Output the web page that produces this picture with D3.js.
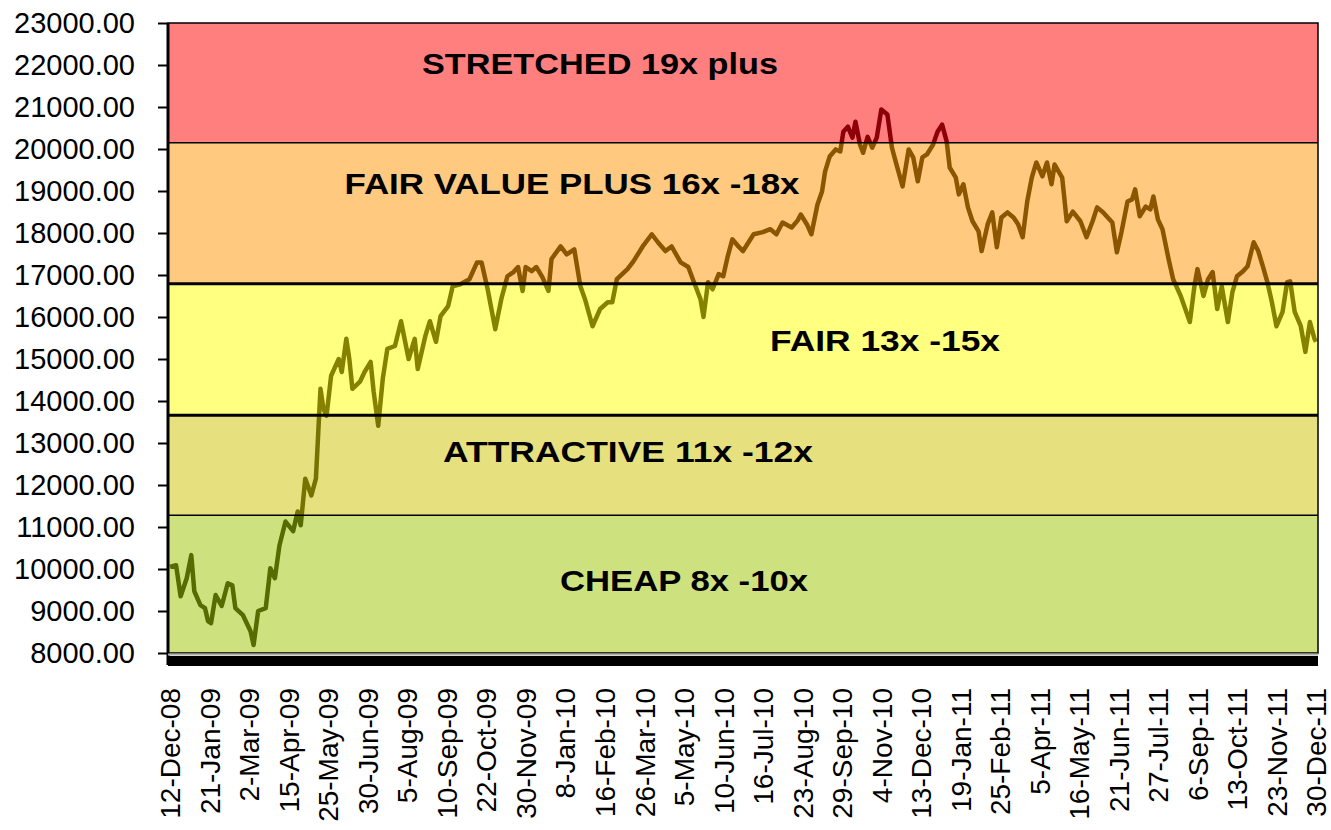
<!DOCTYPE html>
<html>
<head>
<meta charset="utf-8">
<script src="https://cdn.jsdelivr.net/npm/d3@7"></script>
<style>
  body { margin: 0; background: #fff; }
  text { font-family: "Liberation Sans", Arial, sans-serif; }
</style>
</head>
<body>
<div class="chart"></div>
<script>
var svgWidth = 1331;
var svgHeight = 830;

// y axis ticks
var yTicks = [8000, 9000, 10000, 11000, 12000, 13000, 14000, 15000, 16000,
  17000, 18000, 19000, 20000, 21000, 22000, 23000];

// x axis labels, one every 26 sessions
var dateLabels = ["12-Dec-08", "21-Jan-09", "2-Mar-09", "15-Apr-09", "25-May-09",
  "30-Jun-09", "5-Aug-09", "10-Sep-09", "22-Oct-09", "30-Nov-09", "8-Jan-10",
  "16-Feb-10", "26-Mar-10", "5-May-10", "10-Jun-10", "16-Jul-10", "23-Aug-10",
  "29-Sep-10", "4-Nov-10", "13-Dec-10", "19-Jan-11", "25-Feb-11", "5-Apr-11",
  "16-May-11", "21-Jun-11", "27-Jul-11", "6-Sep-11", "13-Oct-11", "23-Nov-11",
  "30-Dec-11"];
var sessionsPerLabel = 26;

// valuation bands (lower / upper bound)
var bandNames = ["CHEAP 8x -10x", "ATTRACTIVE 11x -12x", "FAIR 13x -15x",
  "FAIR VALUE PLUS 16x -18x", "STRETCHED  19x plus"];
var bandLow = [8000, 11280, 13660, 16790, 20150];
var bandHigh = [11280, 13660, 16790, 20150, 23000];
var bandFill = ["#cde27f", "#e6e07f", "#ffff80", "#ffc980", "#ff7f7f"];
var bandLine = ["#566b00", "#767300", "#868200", "#8c5500", "#8e0008"];
var bandLabelX = [684, 628, 885, 572, 600];
var bandLabelY = [580, 451, 340, 183, 63];
var bandLabelW = [248, 370, 230, 455, 356];

// index level (session number, close)
var sessions = [0, 4, 7, 11, 14, 16, 20, 23, 25, 27, 30, 34, 38, 41, 43, 48, 53, 55,
  58, 63, 66, 69, 72, 76, 81, 84, 86, 89, 93, 96, 99, 101, 103, 106, 111, 113, 116,
  118, 120, 125, 128, 132, 134, 137, 140, 143, 148, 152, 157, 161, 163, 168, 171,
  175, 178, 183, 186, 191, 197, 202, 205, 209, 214, 218, 222, 226, 229, 232, 234,
  238, 241, 245, 249, 251, 257, 261, 266, 270, 273, 278, 283, 288, 291, 294, 301,
  305, 311, 317, 321, 326, 330, 336, 341, 344, 349, 351, 354, 357, 361, 364, 367,
  370, 374, 377, 384, 390, 395, 399, 403, 409, 413, 415, 419, 422, 426, 429, 431,
  434, 438, 441, 443, 446, 449, 451, 454, 456, 459, 462, 465, 468, 472, 475, 478,
  482, 486, 489, 492, 495, 498, 502, 505, 508, 511, 513, 517, 519, 522, 525, 528,
  532, 534, 538, 541, 544, 547, 551, 555, 558, 561, 564, 567, 570, 574, 577, 580,
  582, 587, 590, 594, 599, 603, 607, 610, 614, 620, 623, 626, 630, 633, 635, 638,
  642, 645, 647, 650, 653, 657, 660, 665, 668, 671, 674, 676, 680, 683, 686, 689,
  692, 696, 699, 702, 706, 709, 713, 716, 719, 722, 725, 728, 732, 735, 737, 740,
  744, 747, 750, 753, 754];
var closes = [10050, 10090, 9350, 9780, 10330, 9470, 9140, 9070, 8760, 8710, 9380,
  9120, 9660, 9610, 9070, 8900, 8520, 8190, 9000, 9070, 10020, 9780, 10560, 11130,
  10900, 11370, 11040, 12150, 11750, 12150, 14290, 13810, 13650, 14600, 15000, 14690,
  15480, 15000, 14290, 14460, 14690, 14930, 14220, 13410, 14530, 15240, 15310, 15900,
  15000, 15480, 14760, 15550, 15900, 15410, 16020, 16260, 16730, 16780, 16900, 17300,
  17300, 16660, 15710, 16430, 16970, 17070, 17190, 16620, 17190, 17090, 17190, 16950,
  16620, 17380, 17680, 17490, 17610, 16730, 16430, 15780, 16190, 16350, 16350, 16900,
  17140, 17330, 17680, 17970, 17780, 17570, 17680, 17300, 17190, 16900, 16430, 16000,
  16830, 16660, 17020, 16970, 17450, 17850, 17680, 17570, 17970, 18020, 18090, 17970,
  18250, 18130, 18300, 18440, 18210, 17970, 18680, 18990, 19460, 19820, 19990, 19940,
  20410, 20530, 20270, 20650, 20100, 19910, 20290, 20030, 20270, 20940, 20820, 20030,
  19630, 19110, 19990, 19800, 19230, 19800, 19870, 20100, 20410, 20580, 20180, 19560,
  19320, 18920, 19160, 18610, 18280, 18040, 17570, 18210, 18490, 17660, 18370, 18490,
  18370, 18210, 17900, 18750, 19320, 19680, 19350, 19680, 19160, 19630, 19320, 18280,
  18510, 18280, 17900, 18280, 18610, 18490, 18250, 17540, 18020, 18750, 18800, 19040,
  18400, 18630, 18560, 18870, 18320, 18090, 17380, 16900, 16500, 16190, 15880, 16730,
  17140, 16500, 16900, 17070, 16190, 16730, 15880, 16590, 16970, 17090, 17210, 17780,
  17570, 17210, 16830, 16350, 15780, 16120, 16830, 16850, 16120, 15780, 15170, 15880,
  15480, 15410];

var plot = {left: 168, right: 1318, top: 23, bottom: 653};

var svg = d3.select(".chart")
  .append("svg")
  .attr("width", svgWidth)
  .attr("height", svgHeight)
  .style("display", "block");

svg.append("rect").attr("width", svgWidth).attr("height", svgHeight).attr("fill", "#fff");

var lastSession = sessionsPerLabel * (dateLabels.length - 1);
var xScale = d3.scaleLinear().domain([0, lastSession]).range([170, 1316]);
var yScale = d3.scaleLinear().domain([8000, 23000]).range([plot.bottom, plot.top]);

// band backgrounds + a clip for each band
var defs = svg.append("defs");
bandLow.forEach(function(lo, i) {
  svg.append("rect")
    .attr("x", plot.left)
    .attr("y", yScale(bandHigh[i]))
    .attr("width", plot.right - plot.left)
    .attr("height", yScale(lo) - yScale(bandHigh[i]))
    .attr("fill", bandFill[i]);
  defs.append("clipPath").attr("id", "band" + i)
    .append("rect")
    .attr("x", plot.left)
    .attr("y", yScale(bandHigh[i]))
    .attr("width", plot.right - plot.left)
    .attr("height", yScale(lo) - yScale(bandHigh[i]));
});

// the index line, coloured per band
var line = d3.line()
  .x(function(d, i) { return xScale(sessions[i]); })
  .y(function(d) { return yScale(d); });

bandLow.forEach(function(lo, i) {
  svg.append("path")
    .datum(closes)
    .attr("clip-path", "url(#band" + i + ")")
    .attr("d", line)
    .attr("fill", "none")
    .attr("stroke", bandLine[i])
    .attr("stroke-width", 4.5)
    .attr("stroke-linejoin", "round");
});

// band borders
var borderWidth = [1.5, 3, 3, 1.5];
[11280, 13660, 16790, 20150].forEach(function(v, i) {
  svg.append("line")
    .attr("x1", plot.left).attr("x2", plot.right)
    .attr("y1", yScale(v)).attr("y2", yScale(v))
    .attr("stroke", "#000")
    .attr("stroke-width", borderWidth[i]);
});

// band labels (the original is a stretched bitmap, so widen the text)
bandNames.forEach(function(name, i) {
  svg.append("text")
    .attr("x", bandLabelX[i])
    .attr("y", bandLabelY[i])
    .attr("dy", "0.35em")
    .attr("text-anchor", "middle")
    .attr("textLength", bandLabelW[i])
    .attr("lengthAdjust", "spacingAndGlyphs")
    .style("font-size", "30px")
    .style("font-weight", "bold")
    .attr("fill", "#000")
    .text(name);
});

// plot frame
svg.append("rect")
  .attr("x", plot.left).attr("y", plot.top)
  .attr("width", plot.right - plot.left)
  .attr("height", plot.bottom - plot.top)
  .attr("fill", "none")
  .attr("stroke", "#000")
  .attr("stroke-width", 1.5);
svg.append("line")
  .attr("x1", plot.left).attr("x2", plot.left)
  .attr("y1", plot.top).attr("y2", plot.bottom + 12)
  .attr("stroke", "#000").attr("stroke-width", 3);
svg.append("line")
  .attr("x1", plot.left).attr("x2", plot.right)
  .attr("y1", plot.bottom + 1.5).attr("y2", plot.bottom + 1.5)
  .attr("stroke", "#b0b0b0").attr("stroke-width", 2);
svg.append("rect")
  .attr("x", plot.left).attr("y", plot.bottom + 3)
  .attr("width", plot.right - plot.left)
  .attr("height", 10)
  .attr("fill", "#000");

// y axis
var yAxis = svg.append("g")
  .attr("transform", "translate(" + plot.left + ",0)")
  .call(d3.axisLeft(yScale).tickValues(yTicks).tickFormat(d3.format(".2f"))
    .tickSize(10).tickPadding(23));
yAxis.select(".domain").remove();
yAxis.selectAll("line").attr("stroke", "#000").attr("stroke-width", 2);
yAxis.selectAll("text")
  .style("font-size", "29px")
  .attr("fill", "#000");

// x axis labels
var xAxis = svg.append("g")
  .attr("transform", "translate(0," + (plot.bottom + 12) + ")")
  .call(d3.axisBottom(xScale)
    .tickValues(dateLabels.map(function(d, i) { return i * sessionsPerLabel; }))
    .tickFormat(function(d) { return dateLabels[d / sessionsPerLabel]; })
    .tickSize(0));
xAxis.select(".domain").remove();
xAxis.selectAll("text")
  .attr("transform", "rotate(-90)")
  .attr("x", -23)
  .attr("y", 0)
  .attr("dy", "0.35em")
  .style("text-anchor", "end")
  .style("font-size", "28px")
  .attr("fill", "#000");
</script>
</body>
</html>
